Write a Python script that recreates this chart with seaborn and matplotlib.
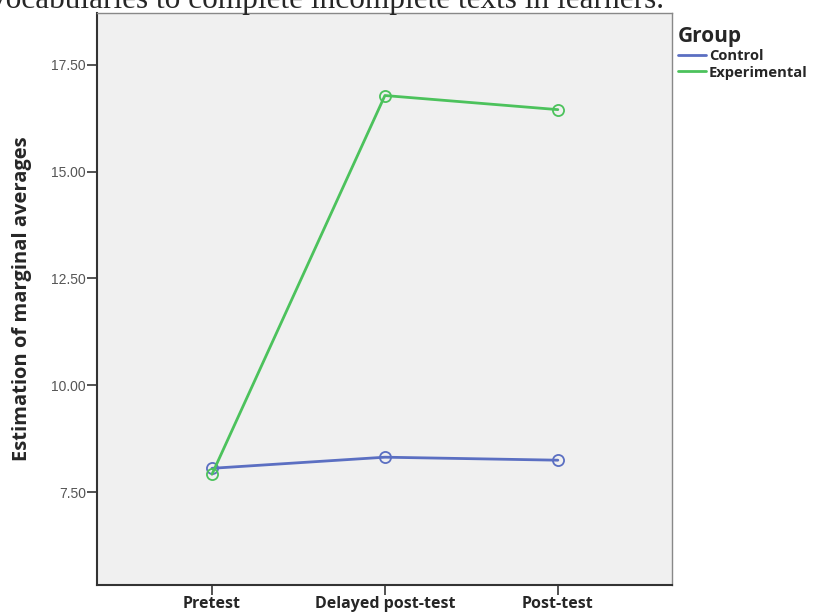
import numpy as np
import matplotlib.pyplot as plt
import pandas as pd
import seaborn as sns
from matplotlib.lines import Line2D

tests = ["Pretest", "Delayed post-test", "Post-test"]
control = [8.06, 8.32, 8.25]
experimental = [7.92, 16.78, 16.45]
groups = ["Control", "Experimental"]

df = pd.DataFrame({
    "test": tests * 2,
    "score": control + experimental,
    "Group": [groups[0]] * 3 + [groups[1]] * 3,
})

colors = {"Control": "#5b6fc2", "Experimental": "#4cc25c"}

sns.set_style("white")
fig = plt.figure(figsize=(8.17, 6.14), dpi=100)
ax = fig.add_axes([0.1187, 0.0472, 0.7038, 0.9316])
ax.set_facecolor("#f0f0f0")

sns.lineplot(data=df, x="test", y="score", hue="Group", palette=colors,
             marker="o", markersize=8, linewidth=2, legend=False, ax=ax, sort=False)
for ln in ax.lines:
    ln.set_markerfacecolor("none")
    ln.set_markeredgecolor(ln.get_color())
    ln.set_markeredgewidth(1.3)

ax.set_xlim(-0.665, 2.66)
ax.set_ylim(5.33, 18.71)
ax.set_yticks([7.5, 10, 12.5, 15, 17.5])
ax.set_yticklabels(["7.50", "10.00", "12.50", "15.00", "17.50"],
                   fontsize=10, color="#555555", family="Liberation Sans")
ax.set_xticks(range(len(tests)))
ax.set_xticklabels(tests, fontsize=11.5, fontweight="bold", family="Open Sans")
ax.tick_params(axis="both", length=7, width=1.3, color="#444444", direction="out",
               bottom=True, left=True, pad=1)
ax.set_xlabel("")
ax.set_ylabel("Estimation of marginal averages", fontsize=14.5, fontweight="bold",
              family="Open Sans", labelpad=14)
for s in ax.spines.values():
    s.set_color("#888888")
    s.set_linewidth(1)
ax.spines["left"].set_color("#333333")
ax.spines["bottom"].set_color("#333333")
ax.spines["left"].set_linewidth(1.5)
ax.spines["bottom"].set_linewidth(1.5)

handles = [Line2D([], [], color=colors[g], linewidth=2) for g in groups]
leg = ax.legend(handles, groups, title="Group", loc="upper left",
                bbox_to_anchor=(0.998, 0.99), frameon=False, handlelength=1.9,
                handletextpad=0.2, labelspacing=0.15, borderaxespad=0.3,
                borderpad=0.2,
                prop={"family": "Open Sans", "weight": "bold", "size": 10.6})
leg.get_title().set_fontsize(15)
leg.get_title().set_fontweight("bold")
leg.get_title().set_family("Open Sans")
leg._legend_box.align = "left"

fig.text(-0.012, 1.0, "vocabularies to complete incomplete texts in learners.",
         family="Liberation Serif", fontsize=22.5, va="center", ha="left")

fig.savefig("out.png", dpi=100)
